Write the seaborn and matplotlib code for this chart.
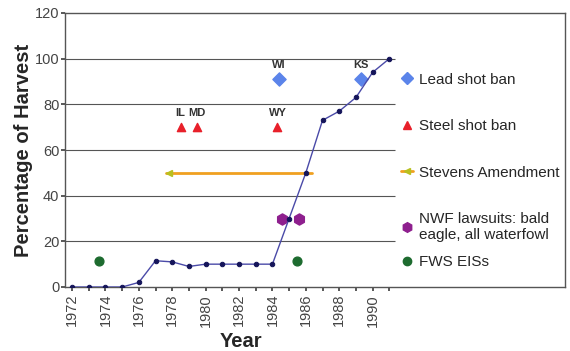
import matplotlib
matplotlib.use("Agg")
import matplotlib.pyplot as plt
from matplotlib.lines import Line2D
import seaborn as sns
import pandas as pd
import numpy as np

# Percentage of harvest taken with nontoxic shot
years = list(range(1972, 1992))
harvest_pct = [0, 0, 0, 0, 2, 11.5, 11, 9, 10, 10, 10, 10, 10, 30, 50, 73, 77, 83, 94, 100]

# Events
lead_states = ["WI", "KS"]
lead_years = [1984.4, 1989.3]
lead_level = 91

steel_states = ["IL", "MD", "WY"]
steel_years = [1978.5, 1979.5, 1984.3]
steel_level = 70

stevens_from, stevens_to, stevens_level = 1986.4, 1977.6, 50

nwf_years = [1984.6, 1985.6]
nwf_level = 30

fws_years = [1973.6, 1985.5]
fws_level = 11.5

sns.set_theme(style="white")
plt.rcParams['font.family'] = ['Liberation Sans', 'DejaVu Sans']

fig = plt.figure(figsize=(5.7, 3.51), dpi=100)
ax = fig.add_axes([65 / 570, 1 - 287 / 351, 500 / 570, 274 / 351])

x0 = 1971.58
ax.set_xlim(x0, x0 + 500 / 16.7)
ax.set_ylim(0, 120)

# horizontal gridlines only over the data region
ax.hlines([20, 40, 60, 80, 100], x0, 1991.35, color='#555555', linewidth=0.8, zorder=1)

df = pd.DataFrame({"Year": years, "Pct": harvest_pct})
sns.lineplot(data=df, x="Year", y="Pct", ax=ax, color='#4a4aa8', linewidth=1,
             marker='o', markersize=3.2, markerfacecolor='#15155a',
             markeredgecolor='#15155a', zorder=5)

ax.scatter(lead_years, [lead_level] * len(lead_years), marker='D', s=45,
           color='#5b84ea', zorder=4)
for st, yr in zip(lead_states, lead_years):
    ax.text(yr, lead_level + 4, st, ha='center', va='bottom', fontsize=8,
            fontweight='bold', color='#333333')

ax.scatter(steel_years, [steel_level] * len(steel_years), marker='^', s=35,
           color='#e8202a', zorder=4)
for st, yr in zip(steel_states, steel_years):
    ax.text(yr, steel_level + 4, st, ha='center', va='bottom', fontsize=8,
            fontweight='bold', color='#333333')

ax.plot([stevens_from, stevens_to], [stevens_level, stevens_level],
        color='#f0a020', linewidth=2, zorder=3)
ax.plot([stevens_to + 0.2], [stevens_level], marker='<', markersize=4,
        color='#b8c020', zorder=3)

ax.scatter(nwf_years, [nwf_level] * len(nwf_years), marker='h', s=65,
           color='#8e1f8e', zorder=4)
ax.scatter(fws_years, [fws_level] * len(fws_years), marker='o', s=40,
           color='#1d6b2f', zorder=4)

ax.set_xticks(years)
ax.set_xticklabels([str(y) if y % 2 == 0 else '' for y in years], rotation=90,
                   fontsize=10.5, color='#444444')
ax.set_yticks([0, 20, 40, 60, 80, 100, 120])
ax.tick_params(axis='y', labelsize=10.5, colors='#444444', length=3, pad=1)
ax.tick_params(axis='x', length=3, pad=2, colors='#444444', bottom=True)
ax.tick_params(axis='y', left=True)

ax.set_xlabel('Year', fontsize=14.5, fontweight='bold', labelpad=2)
ax.xaxis.set_label_coords((241 - 65) / 500, -0.165)
ax.set_ylabel('Percentage of Harvest', fontsize=14.5, fontweight='bold', labelpad=1)

for s in ax.spines.values():
    s.set_color('#555555')
    s.set_linewidth(1)

handles = [
    Line2D([], [], marker='D', color='#5b84ea', linestyle='none', markersize=6),
    Line2D([], [], marker='^', color='#e8202a', linestyle='none', markersize=6),
    Line2D([], [], marker='<', color='#f0a020', markerfacecolor='#b8c020',
           markeredgecolor='#b8c020', linewidth=2, markersize=4),
    Line2D([], [], marker='h', color='#8e1f8e', linestyle='none', markersize=7),
]
labels = ['Lead shot ban', 'Steel shot ban', 'Stevens Amendment',
          'NWF lawsuits: bald\neagle, all waterfowl']
leg_kw = dict(frameon=False, fontsize=11, handlelength=0.8, handletextpad=0.4,
              borderpad=0, borderaxespad=0)
leg1 = ax.legend(handles, labels, loc='upper left', bbox_to_anchor=(0.672, 0.782),
                 labelspacing=2.12, **leg_kw)
ax.add_artist(leg1)

# FWS entry sits closer to the NWF entry in the original
fws_handle = Line2D([], [], marker='o', color='#1d6b2f', linestyle='none', markersize=6)
ax.legend([fws_handle], ['FWS EISs'], loc='center left',
          bbox_to_anchor=(0.672, (287 - 262) / 274), **leg_kw)

fig.savefig('out.png', dpi=100)
